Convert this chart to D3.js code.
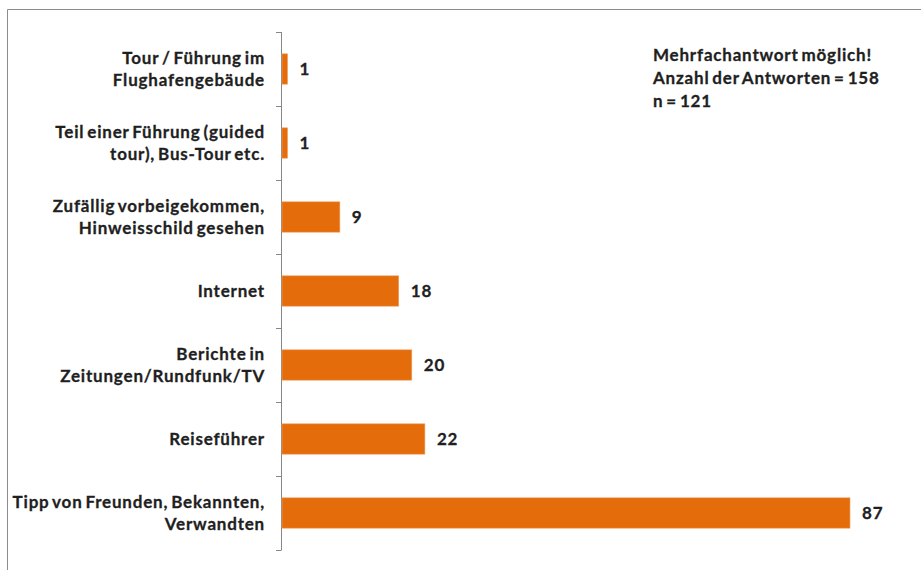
<!DOCTYPE html>
<html>
<head>
<meta charset="utf-8">
<script src="https://cdn.jsdelivr.net/npm/d3@7"></script>
<style>
  html, body { margin: 0; padding: 0; background: #fff; }
  svg { display: block; }
  text { font-family: Lato, "Open Sans", sans-serif; font-weight: bold; fill: #1f1f1f;
         stroke: #1f1f1f; stroke-width: 0.3px;
         font-size: 17px; letter-spacing: 0.8px; word-spacing: -2px; }
</style>
</head>
<body>
<svg id="chart" width="921" height="570"></svg>
<script>
// Categories (top to bottom), each label split into its lines
const categories = [
  ["Tour / Führung im", "Flughafengebäude"],
  ["Teil einer Führung (guided", "tour), Bus-Tour etc."],
  ["Zufällig vorbeigekommen,", "Hinweisschild gesehen"],
  ["Internet"],
  ["Berichte in", "Zeitungen/Rundfunk/TV"],
  ["Reiseführer"],
  ["Tipp von Freunden, Bekannten,", "Verwandten"]
];
const values = [1, 1, 9, 18, 20, 22, 87];
const noteLines = [
  "Mehrfachantwort möglich!",
  "Anzahl der Antworten = 158",
  "n = 121"
];

const svg = d3.select("#chart");
const W = 921, H = 570;

// chart area border (top and left edges)
svg.append("path")
  .attr("d", `M7.5,${H} V9.5 H${W}`)
  .attr("fill", "none").attr("stroke", "#8c8c8c").attr("stroke-width", 1);

const plot = { left: 281, top: 32, bottom: 550, right: 850 };
const keys = categories.map((d, i) => i);

const y = d3.scaleBand().domain(keys).range([plot.top, plot.bottom]).paddingInner(0.59).paddingOuter(0.295);
const x = d3.scaleLinear().domain([0, 87]).range([plot.left, plot.right]);

// axis line with tick marks at band boundaries
const axis = svg.append("g");
axis.append("line")
  .attr("x1", plot.left + 0.5).attr("x2", plot.left + 0.5)
  .attr("y1", plot.top).attr("y2", plot.bottom)
  .attr("stroke", "#868686");
const step = (plot.bottom - plot.top) / categories.length;
axis.selectAll("line.tick")
  .data(d3.range(categories.length + 1))
  .join("line")
  .attr("class", "tick")
  .attr("x1", plot.left - 5).attr("x2", plot.left + 0.5)
  .attr("y1", d => Math.round(plot.top + d * step) + 0.5)
  .attr("y2", d => Math.round(plot.top + d * step) + 0.5)
  .attr("stroke", "#868686");

// bars
svg.append("g").selectAll("rect")
  .data(values)
  .join("rect")
  .attr("x", x(0) + 1)
  .attr("y", (d, i) => y(i))
  .attr("width", d => x(d) - x(0) - 1)
  .attr("height", y.bandwidth())
  .attr("fill", "#E46C0A")
  .attr("stroke", "#F0A060")
  .attr("stroke-width", 0.6);

// value labels
svg.append("g").selectAll("text")
  .data(values)
  .join("text")
  .attr("x", d => x(d) + 12)
  .attr("y", (d, i) => y(i) + y.bandwidth() / 2)
  .attr("dy", "0.35em")
  .text(d => d);

// category labels
const lh = 22;
const labels = svg.append("g").selectAll("text")
  .data(categories)
  .join("text")
  .attr("text-anchor", "end")
  .attr("transform", (d, i) => `translate(265, ${y(i) + y.bandwidth() / 2})`);
labels.selectAll("tspan")
  .data(d => d.map((t, j) => ({ t, j, n: d.length })))
  .join("tspan")
  .attr("x", 0)
  .attr("y", d => (d.j - (d.n - 1) / 2) * lh)
  .attr("dy", "0.35em")
  .text(d => d.t);

// note
svg.append("g").selectAll("text")
  .data(noteLines)
  .join("text")
  .attr("x", 653)
  .attr("y", (d, i) => 55 + i * 23)
  .attr("dy", "0.35em")
  .text(d => d);
</script>
</body>
</html>
